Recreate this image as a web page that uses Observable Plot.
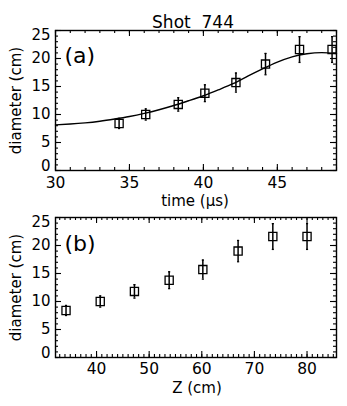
<!DOCTYPE html>
<html>
<head>
<meta charset="utf-8">
<script src="https://cdn.jsdelivr.net/npm/d3@7"></script>
<script src="https://cdn.jsdelivr.net/npm/@observablehq/plot@0.6"></script>
<style>
  html, body { margin: 0; padding: 0; background: #fff; }
  svg { display: block; }
</style>
</head>
<body>
<div id="chart"></div>
<script>
// ---- data ----
const times      = [34.3, 36.1, 38.3, 40.1, 42.2, 44.2, 46.5, 48.7];      // µs (panel a)
const zPositions = [34.2, 40.7, 47.2, 53.8, 60.2, 66.9, 73.5, 80.0];      // cm (panel b)
const diameters  = [8.4, 10.0, 11.8, 13.8, 15.7, 19.0, 21.6, 21.6];       // cm
const errors     = [0.9, 1.0, 1.2, 1.5, 1.7, 1.9, 2.3, 2.3];              // cm

const fitTimes     = [30, 31, 32, 33, 34, 35, 36, 37, 38, 39, 40, 41, 42, 43, 44, 45, 46, 47, 48, 49];
const fitDiameters = [8.15, 8.3, 8.5, 8.8, 9.2, 9.65, 10.2, 10.85, 11.6, 12.45, 13.35, 14.4, 15.5, 16.85, 18.15, 19.35, 20.3, 20.85, 21.05, 20.9];

const timeTickLabels = [30, 35, 40, 45];
const zTickLabels    = [40, 50, 60, 70, 80];
const yTickLabels    = [0, 5, 10, 15, 20, 25];

const title = "Shot\u00a0\u00a0744";
const xLabelA = "time\u00a0(\u00b5s)";
const xLabelB = "Z\u00a0(cm)";
const yLabel = "diameter\u00a0(cm)";
const panelA = "(a)";
const panelB = "(b)";

// ---- helpers ----
const W = 347, ML = 55, MR = 11;
const FW = W - ML - MR;
const FH = 140;
const FONT = "DejaVu Sans";

const rowsA = times.map((t, i) => ({x: t, y: diameters[i], e: errors[i]}));
const rowsB = zPositions.map((z, i) => ({x: z, y: diameters[i], e: errors[i]}));
const fitRows = fitTimes.map((t, i) => ({x: t, y: fitDiameters[i]}));

const capSymbol = {
  draw(context, size) {
    const w = Math.sqrt(size) / 2;
    context.moveTo(-w, 0);
    context.lineTo(w, 0);
  }
};

function range(a, b, s) { const out = []; for (let v = a; v <= b + 1e-9; v += s) out.push(v); return out; }

function boxTicks(xMajor, xMinor, yMajor, yMinor) {
  const M = 6, m = 3, sw = 1.1;
  return [
    Plot.ruleX(xMinor, {x: d => d, insetTop: FH - m, strokeWidth: sw}),
    Plot.ruleX(xMinor, {x: d => d, insetBottom: FH - m, strokeWidth: sw}),
    Plot.ruleX(xMajor, {x: d => d, insetTop: FH - M, strokeWidth: sw}),
    Plot.ruleX(xMajor, {x: d => d, insetBottom: FH - M, strokeWidth: sw}),
    Plot.ruleY(yMinor, {y: d => d, insetRight: FW - m, strokeWidth: sw}),
    Plot.ruleY(yMinor, {y: d => d, insetLeft: FW - m, strokeWidth: sw}),
    Plot.ruleY(yMajor, {y: d => d, insetRight: FW - M, strokeWidth: sw}),
    Plot.ruleY(yMajor, {y: d => d, insetLeft: FW - M, strokeWidth: sw})
  ];
}

function yLabels() {
  const inner = yTickLabels.slice(1, -1);
  return [
    Plot.text(inner, {y: d => d, frameAnchor: "left", dx: -5, textAnchor: "end", fontSize: 15, text: d => String(d)}),
    Plot.text([yTickLabels[0]], {y: d => d, frameAnchor: "left", dx: -5, dy: -4, textAnchor: "end", fontSize: 15, text: d => String(d)}),
    Plot.text([yTickLabels[yTickLabels.length - 1]], {y: d => d, frameAnchor: "left", dx: -5, dy: 5, textAnchor: "end", fontSize: 15, text: d => String(d)}),
    Plot.text([yLabel], {frameAnchor: "left", dx: -39, rotate: -90, textAnchor: "middle", fontSize: 15, text: d => d})
  ];
}

function dataMarks(rows) {
  return [
    Plot.ruleX(rows, {x: "x", y1: d => d.y - d.e, y2: d => d.y + d.e, strokeWidth: 1.5}),
    Plot.dot(rows, {x: "x", y: d => d.y - d.e, symbol: capSymbol, r: 1.2, stroke: "black", strokeWidth: 1.3}),
    Plot.dot(rows, {x: "x", y: d => d.y + d.e, symbol: capSymbol, r: 1.2, stroke: "black", strokeWidth: 1.3}),
    Plot.dot(rows, {x: "x", y: "y", symbol: "square", r: 4.6, stroke: "black", fill: "none", strokeWidth: 1.3})
  ];
}

const common = {
  width: W,
  marginLeft: ML,
  marginRight: MR,
  style: {fontFamily: FONT, color: "black", background: "white", overflow: "visible"},
  y: {domain: [0, 25], axis: null}
};

// ---- panel (a) ----
const plotA = Plot.plot({
  ...common,
  height: 30 + FH + 45,
  marginTop: 30,
  marginBottom: 45,
  x: {domain: [30, 49], axis: null},
  marks: [
    ...boxTicks(range(30, 45, 5), range(30, 49, 1), range(0, 25, 5), range(0, 25, 1)),
    Plot.line(fitRows, {x: "x", y: "y", curve: "natural", stroke: "black", strokeWidth: 1.4}),
    ...dataMarks(rowsA),
    Plot.frame({stroke: "black", strokeWidth: 1.4}),
    Plot.text(timeTickLabels, {x: d => d, frameAnchor: "bottom", dy: 17, fontSize: 15.5, text: d => String(d)}),
    ...yLabels(),
    Plot.text([xLabelA], {frameAnchor: "bottom", dy: 35, dx: -1, fontSize: 15, text: d => d}),
    Plot.text([title], {frameAnchor: "top", dy: -15, dx: -3, fontSize: 17, text: d => d}),
    Plot.text([panelA], {frameAnchor: "top-left", dx: 9, dy: 16.5, textAnchor: "start", fontSize: 22, text: d => d})
  ]
});

// ---- panel (b) ----
const plotB = Plot.plot({
  ...common,
  height: 2 + FH + 49,
  marginTop: 2,
  marginBottom: 49,
  x: {domain: [32.2, 85.6], axis: null},
  marks: [
    ...boxTicks(range(40, 80, 10), range(33, 85, 1), range(0, 25, 5), range(0, 25, 1)),
    ...dataMarks(rowsB),
    Plot.frame({stroke: "black", strokeWidth: 1.4}),
    Plot.text(zTickLabels, {x: d => d, frameAnchor: "bottom", dy: 16, fontSize: 15.5, text: d => String(d)}),
    ...yLabels(),
    Plot.text([xLabelB], {frameAnchor: "bottom", dy: 35, dx: 1, fontSize: 15, text: d => d}),
    Plot.text([panelB], {frameAnchor: "top-left", dx: 9, dy: 18, textAnchor: "start", fontSize: 22, text: d => d})
  ]
});

const root = document.getElementById("chart");
root.appendChild(plotA);
root.appendChild(plotB);
</script>
</body>
</html>
